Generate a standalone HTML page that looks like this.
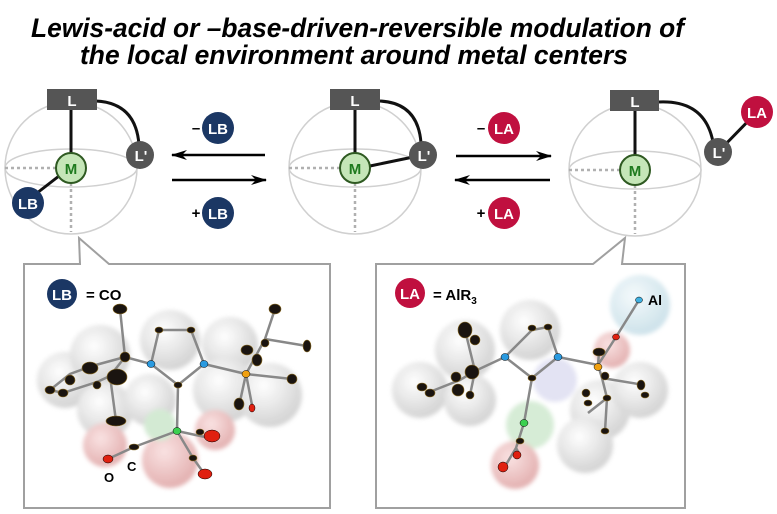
<!DOCTYPE html>
<html><head><meta charset="utf-8"><style>
html,body{margin:0;padding:0;background:#fff;width:777px;height:514px;overflow:hidden}
svg{display:block}
text{font-family:"Liberation Sans",sans-serif}
</style></head><body>
<svg width="777" height="514" viewBox="0 0 777 514" xmlns="http://www.w3.org/2000/svg">
<defs>
<marker id="ah" markerWidth="16" markerHeight="10" refX="15" refY="5" orient="auto" markerUnits="userSpaceOnUse"><path d="M0,0 L16,5 L0,10 L5,5Z" fill="#000"/></marker>
<filter id="bl" x="-20%" y="-20%" width="140%" height="140%"><feGaussianBlur stdDeviation="2"/></filter>
<radialGradient id="sp" cx="40%" cy="35%" r="65%"><stop offset="0" stop-color="#fff"/><stop offset="1" stop-color="#cfcfcf"/></radialGradient>
<radialGradient id="spr" cx="40%" cy="35%" r="65%"><stop offset="0" stop-color="#fae0e0"/><stop offset="1" stop-color="#e0a8a8"/></radialGradient>
<radialGradient id="spb" cx="40%" cy="35%" r="65%"><stop offset="0" stop-color="#f4fafc"/><stop offset="1" stop-color="#c8dfe8"/></radialGradient>
</defs>
<g font-style="italic" font-weight="bold" font-size="27" fill="#000">
<text x="31" y="37" textLength="653" lengthAdjust="spacingAndGlyphs">Lewis-acid or –base-driven-reversible modulation of</text>
<text x="80" y="64" textLength="548" lengthAdjust="spacingAndGlyphs">the local environment around metal centers</text>
</g>

<g stroke="#d0d0d0" stroke-width="1.5" fill="none">
<circle cx="71" cy="168" r="66"/><ellipse cx="71" cy="168" rx="66" ry="19"/>
<circle cx="355" cy="168" r="66"/><ellipse cx="355" cy="168" rx="66" ry="19"/>
<circle cx="635" cy="170" r="66"/><ellipse cx="635" cy="170" rx="66" ry="19"/>
</g>
<g stroke="#b0b0b0" stroke-width="2.5" stroke-dasharray="3,3" fill="none">
<path d="M5,168H56M71,183V232"/>
<path d="M289,168H340M355,183V232"/>
<path d="M569,170H620M635,185V234"/>
</g>
<g stroke="#111" stroke-width="3" fill="none">
<path d="M71,100V153"/><path d="M96,101 Q136,103 139,145"/><path d="M59,176 L28,200"/>
<path d="M355,100V153"/><path d="M380,101 Q418,103 421,143"/><path d="M370,166 L423,155"/>
<path d="M635,101V155"/><path d="M659,102 Q705,100 713,142"/><path d="M718,152 L757,112"/>
</g>
<g fill="#555"><rect x="47" y="89" width="50" height="21"/><rect x="330" y="89" width="50" height="21"/><rect x="610" y="90" width="49" height="21"/>
<circle cx="140" cy="155" r="14"/><circle cx="423" cy="155" r="14"/><circle cx="718" cy="152" r="14"/></g>
<g fill="#fff" font-weight="bold" font-size="15" text-anchor="middle">
<text x="72" y="106">L</text><text x="355" y="106">L</text><text x="635" y="107">L</text>
<text x="141" y="161">L'</text><text x="424" y="161">L'</text><text x="719" y="158">L'</text>
</g>
<g fill="#c5e6b8" stroke="#2f5a22" stroke-width="2"><circle cx="71" cy="168" r="15"/><circle cx="355" cy="168" r="15"/><circle cx="635" cy="170" r="15"/></g>
<g fill="#1e7a1e" font-weight="bold" font-size="15" text-anchor="middle"><text x="71" y="174">M</text><text x="355" y="174">M</text><text x="635" y="176">M</text></g>

<g font-weight="bold" font-size="15" fill="#000" text-anchor="middle">
<text x="196" y="133">–</text><text x="196" y="218">+</text><text x="481" y="133">–</text><text x="481" y="218">+</text>
</g>
<g stroke="#000" stroke-width="2.5" marker-end="url(#ah)">
<line x1="265" y1="155" x2="172" y2="155"/><line x1="172" y1="180" x2="266" y2="180"/>
<line x1="456" y1="156" x2="551" y2="156"/><line x1="550" y1="180" x2="455" y2="180"/>
</g>

<!-- panels -->
<path d="M24,264H80L79,238L109,264H330V508H24Z" fill="#fff" stroke="#a0a0a0" stroke-width="2"/>
<path d="M376,264H593L625,238L622,264H685V508H376Z" fill="#fff" stroke="#a0a0a0" stroke-width="2"/>

<!-- badges -->
<g fill="#1b3764"><circle cx="28" cy="203" r="16"/><circle cx="218" cy="128" r="16"/><circle cx="218" cy="213" r="16"/><circle cx="62" cy="294" r="15"/></g>
<g fill="#c0103f"><circle cx="504" cy="128" r="16"/><circle cx="504" cy="213" r="16"/><circle cx="757" cy="112" r="16"/><circle cx="410" cy="293" r="15"/></g>
<g fill="#fff" font-weight="bold" font-size="15" text-anchor="middle">
<text x="28" y="209">LB</text><text x="218" y="134">LB</text><text x="218" y="219">LB</text><text x="62" y="300">LB</text>
<text x="504" y="134">LA</text><text x="504" y="219">LA</text><text x="757" y="118">LA</text><text x="410" y="299">LA</text>
</g>
<text x="86" y="300" font-weight="bold" font-size="15">= CO</text>
<text x="433" y="300" font-weight="bold" font-size="15">= AlR<tspan font-size="10" dy="4">3</tspan></text>

<!-- left molecule -->
<g filter="url(#bl)" opacity="0.9">
<circle cx="65" cy="380" r="28" fill="url(#sp)"/><circle cx="100" cy="355" r="30" fill="url(#sp)"/>
<circle cx="105" cy="410" r="28" fill="url(#sp)"/><circle cx="170" cy="340" r="30" fill="url(#sp)"/>
<circle cx="230" cy="345" r="28" fill="url(#sp)"/><circle cx="225" cy="390" r="32" fill="url(#sp)"/>
<circle cx="270" cy="395" r="32" fill="url(#sp)"/><circle cx="150" cy="400" r="26" fill="url(#sp)"/>
<circle cx="105" cy="445" r="22" fill="url(#spr)"/><circle cx="170" cy="460" r="28" fill="url(#spr)"/>
<circle cx="215" cy="430" r="20" fill="url(#spr)"/><circle cx="160" cy="425" r="16" fill="#cfe8cf"/>
</g>
<g stroke="#888" stroke-width="2.5" fill="none">
<path d="M120,309L125,357L151,364L159,330L191,330L204,364L246,374L265,339L307,346M265,339L275,309M246,374L292,379M246,374L239,406M246,374L252,405"/>
<path d="M151,364L178,385L204,364M178,385L177,431L134,447L108,459M177,431L205,437M177,431L193,458L203,472"/>
<path d="M125,357L92,366L70,374L50,390L63,393L97,382L110,376L116,421M125,357L110,376"/>
</g>
<g fill="#1a1410" stroke="#8a6a20" stroke-width="0.6">
<ellipse cx="120" cy="309" rx="7" ry="5"/><ellipse cx="125" cy="357" rx="5" ry="5"/><ellipse cx="90" cy="368" rx="8" ry="6"/>
<ellipse cx="117" cy="377" rx="10" ry="8"/><ellipse cx="70" cy="380" rx="5" ry="5"/><ellipse cx="50" cy="390" rx="5" ry="4"/>
<ellipse cx="63" cy="393" rx="5" ry="4"/><ellipse cx="97" cy="385" rx="4" ry="4"/><ellipse cx="116" cy="421" rx="10" ry="5"/>
<ellipse cx="159" cy="330" rx="4" ry="3"/><ellipse cx="191" cy="330" rx="4" ry="3"/><ellipse cx="178" cy="385" rx="4" ry="3"/>
<ellipse cx="275" cy="309" rx="6" ry="5"/><ellipse cx="265" cy="343" rx="4" ry="4"/><ellipse cx="247" cy="350" rx="6" ry="5"/>
<ellipse cx="257" cy="360" rx="5" ry="6"/><ellipse cx="307" cy="346" rx="4" ry="6"/><ellipse cx="292" cy="379" rx="5" ry="5"/>
<ellipse cx="239" cy="404" rx="5" ry="6"/><ellipse cx="134" cy="447" rx="5" ry="3"/><ellipse cx="200" cy="432" rx="4" ry="3"/><ellipse cx="193" cy="458" rx="4" ry="3"/>
</g>
<g stroke="#000" stroke-width="0.5">
<ellipse cx="151" cy="364" rx="4" ry="3.5" fill="#2a9ae0"/><ellipse cx="204" cy="364" rx="4" ry="3.5" fill="#2a9ae0"/>
<ellipse cx="246" cy="374" rx="4" ry="3.5" fill="#f0a010"/><ellipse cx="177" cy="431" rx="4" ry="3.5" fill="#3bd050"/>
<ellipse cx="252" cy="408" rx="3" ry="4" fill="#e02010"/><ellipse cx="108" cy="459" rx="5" ry="4" fill="#e02010"/>
<ellipse cx="212" cy="436" rx="8" ry="6" fill="#e02010"/><ellipse cx="205" cy="474" rx="7" ry="5" fill="#e02010"/>
</g>
<text x="127" y="471" font-weight="bold" font-size="13">C</text><text x="104" y="482" font-weight="bold" font-size="13">O</text>

<!-- right molecule -->
<g filter="url(#bl)" opacity="0.9">
<circle cx="420" cy="390" r="28" fill="url(#sp)"/><circle cx="465" cy="350" r="30" fill="url(#sp)"/>
<circle cx="470" cy="400" r="26" fill="url(#sp)"/><circle cx="530" cy="330" r="30" fill="url(#sp)"/>
<circle cx="555" cy="380" r="22" fill="#e0e0f2"/><circle cx="600" cy="410" r="30" fill="url(#sp)"/>
<circle cx="640" cy="390" r="28" fill="url(#sp)"/><circle cx="585" cy="445" r="28" fill="url(#sp)"/>
<circle cx="640" cy="305" r="30" fill="url(#spb)"/><circle cx="612" cy="350" r="18" fill="url(#spr)"/>
<circle cx="530" cy="425" r="24" fill="#d2ead2"/><circle cx="515" cy="465" r="24" fill="url(#spr)"/>
</g>
<g stroke="#888" stroke-width="2.5" fill="none">
<path d="M639,300L616,337L598,365L558,357L548,327L532,330L505,357L532,378L558,357M532,378L524,423L516,448L504,468M516,448L520,455"/>
<path d="M505,357L475,371L465,330M475,371L460,380L427,393M475,371L470,395M598,365L602,378L607,398L605,431M602,378L644,385M607,398L588,413M598,365L599,352"/>
</g>
<g fill="#1a1410" stroke="#8a6a20" stroke-width="0.6">
<ellipse cx="465" cy="330" rx="7" ry="8"/><ellipse cx="475" cy="340" rx="5" ry="5"/><ellipse cx="472" cy="372" rx="7" ry="7"/>
<ellipse cx="456" cy="377" rx="5" ry="5"/><ellipse cx="422" cy="387" rx="5" ry="4"/><ellipse cx="430" cy="393" rx="5" ry="4"/>
<ellipse cx="458" cy="390" rx="6" ry="6"/><ellipse cx="470" cy="395" rx="4" ry="4"/>
<ellipse cx="532" cy="328" rx="4" ry="3"/><ellipse cx="548" cy="327" rx="4" ry="3"/><ellipse cx="532" cy="378" rx="4" ry="3"/>
<ellipse cx="599" cy="352" rx="6" ry="4"/><ellipse cx="605" cy="376" rx="4" ry="4"/><ellipse cx="641" cy="385" rx="4" ry="5"/>
<ellipse cx="586" cy="393" rx="4" ry="4"/><ellipse cx="607" cy="398" rx="4" ry="3"/><ellipse cx="588" cy="403" rx="4" ry="3"/>
<ellipse cx="605" cy="431" rx="4" ry="3"/><ellipse cx="645" cy="395" rx="4" ry="3"/><ellipse cx="520" cy="441" rx="4" ry="3"/>
</g>
<g stroke="#000" stroke-width="0.5">
<ellipse cx="505" cy="357" rx="4" ry="3.5" fill="#2a9ae0"/><ellipse cx="558" cy="357" rx="4" ry="3.5" fill="#2a9ae0"/>
<ellipse cx="598" cy="367" rx="4" ry="3.5" fill="#f0a010"/><ellipse cx="524" cy="423" rx="4" ry="3.5" fill="#3bd050"/>
<ellipse cx="616" cy="337" rx="3.5" ry="3" fill="#e02010"/><ellipse cx="639" cy="300" rx="3.5" ry="3" fill="#40b0e0"/>
<ellipse cx="503" cy="467" rx="5" ry="5" fill="#e02010"/><ellipse cx="517" cy="455" rx="4" ry="4" fill="#e02010"/>
</g>
<text x="648" y="305" font-weight="bold" font-size="14">Al</text>
</svg>
</body></html>
